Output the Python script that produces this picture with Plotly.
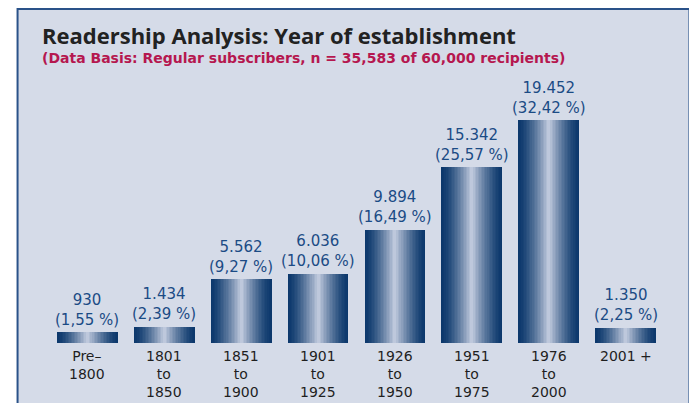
import plotly.graph_objects as go

# data
periods = ["Pre-1800", "1801-1850", "1851-1900", "1901-1925",
           "1926-1950", "1951-1975", "1976-2000", "2001+"]
tick_lines = [["Pre–", "1800"], ["1801", "to", "1850"], ["1851", "to", "1900"],
              ["1901", "to", "1925"], ["1926", "to", "1950"], ["1951", "to", "1975"],
              ["1976", "to", "2000"], ["2001 +"]]
readers = [930, 1434, 5562, 6036, 9894, 15342, 19452, 1350]
shares = ["1,55", "2,39", "9,27", "10,06", "16,49", "25,57", "32,42", "2,25"]

title = "Readership Analysis: Year of establishment"
subtitle = "(Data Basis: Regular subscribers, n = 35,583 of 60,000 recipients)"

# the page puts the figure 8px in from the top-left corner
OFF = 8
W, H = 697 - OFF, 403 - OFF
ML, MR, MT, MB = 48.5 - OFF, 32.5, 100 - OFF, 60
PW, PH = W - ML - MR, H - MT - MB


def px_x(x):
    return (x - OFF - ML) / PW


def px_y(y):
    return (H - MB - (y - OFF)) / PH


dark = (12, 56, 108)
light = (190, 200, 220)
n_layers = 20
bar_w = 0.79

fig = go.Figure()
for k in range(n_layers):
    t = (k / (n_layers - 1)) ** 1.4
    c = tuple(round(dark[i] + (light[i] - dark[i]) * t) for i in range(3))
    fig.add_trace(go.Bar(
        x=periods, y=readers,
        width=bar_w * (1 - k / n_layers),
        marker=dict(color="rgb(%d,%d,%d)" % c, line=dict(width=0)),
        hoverinfo="skip", showlegend=False,
    ))

num_size = 15
tick_size = 14
num_font = dict(family="DejaVu Sans", size=num_size, color="#1b4b85")
tick_font = dict(family="DejaVu Sans", size=tick_size, color="#1f1f1f")

annotations = []
for p, v, s in zip(periods, readers, shares):
    annotations.append(dict(x=p, y=v, xref="x", yref="y",
                            text=f"{v:,}".replace(",", ".") + f"<br>({s} %)",
                            showarrow=False, yanchor="middle", yshift=22.5, font=num_font))
for p, lines in zip(periods, tick_lines):
    shift = 12.5 + (len(lines) - 1) * tick_size * 1.3 / 2
    annotations.append(dict(x=p, y=0, xref="x", yref="y", text="<br>".join(lines),
                            showarrow=False, yanchor="middle", yshift=-shift, font=tick_font))

annotations.append(dict(x=px_x(39), y=px_y(35), xref="paper", yref="paper",
                        xanchor="left", yanchor="middle", showarrow=False, text="<b>" + title + "</b>",
                        font=dict(family="Open Sans", size=22, color="#222222")))
annotations.append(dict(x=px_x(39), y=px_y(58), xref="paper", yref="paper",
                        xanchor="left", yanchor="middle", showarrow=False, text="<b>" + subtitle + "</b>",
                        font=dict(family="DejaVu Sans", size=14, color="#b5174f")))

fig.update_layout(
    width=W, height=H,
    margin=dict(l=ML, r=MR, t=MT, b=MB),
    paper_bgcolor="white", plot_bgcolor="rgba(0,0,0,0)",
    barmode="overlay", bargap=0,
    annotations=annotations,
    shapes=[dict(type="rect", xref="paper", yref="paper", layer="below",
                 x0=px_x(17), x1=px_x(690), y0=px_y(430), y1=px_y(9),
                 fillcolor="#d5dbe8", line=dict(color="#2a5289", width=2))],
)
fig.update_xaxes(showticklabels=False, showgrid=False, zeroline=False, showline=False)
fig.update_yaxes(range=[0, 21200], visible=False)

fig.write_html("out.html")
